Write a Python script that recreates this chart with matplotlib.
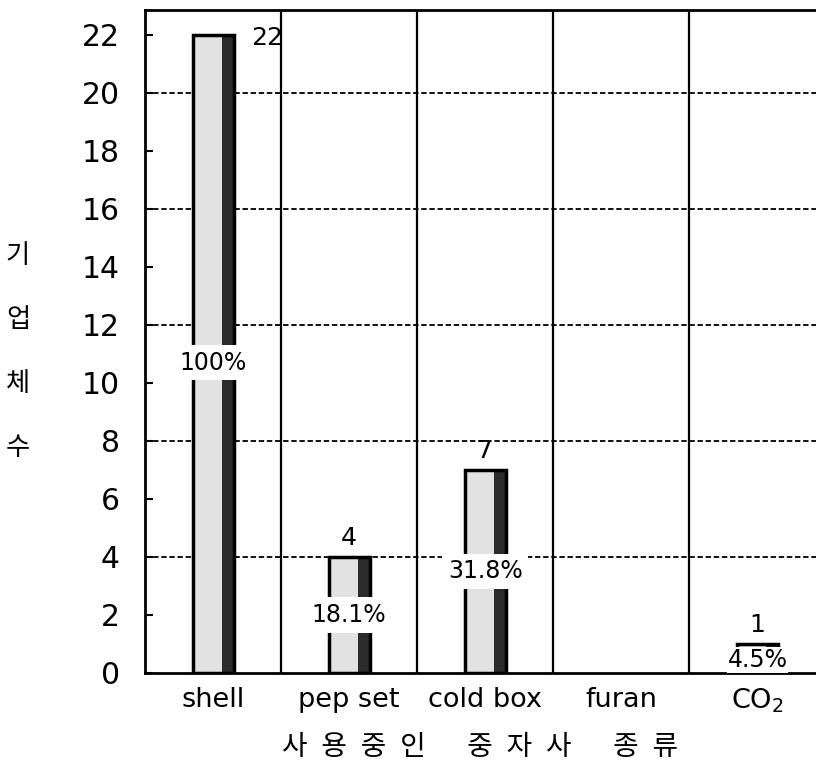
import matplotlib
matplotlib.use("Agg")
import matplotlib.pyplot as plt
import numpy as np

plt.rcParams['font.family'] = ['DejaVu Sans', 'Noto Sans CJK KR']

categories = ["shell", "pep set", "cold box", "furan", "CO$_2$"]
counts = [22, 4, 7, 0, 1]
percents = ["100%", "18.1%", "31.8%", None, "4.5%"]
yticks = list(range(0, 23, 2))
xlabel = "사\u2002용\u2002중\u2002인\u2002\u2002\u2002중\u2002자\u2002사\u2002\u2002\u2002종\u2002류"
ylabel = "기\n업\n체\n수"

fig = plt.figure(figsize=(8.16, 7.67), dpi=100)
ax = fig.add_axes([145/816, 1 - 673/767, 1 - 145/816, (673 - 10)/767])

x = np.arange(len(categories))
light_w = 0.213
dark_w = 0.088
total_w = light_w + dark_w
left = x - total_w / 2

ax.bar(left, counts, width=light_w, align='edge', color='#e2e2e2',
       edgecolor='none', zorder=3)
ax.bar(left + light_w, counts, width=dark_w, align='edge', color='#2b2b2b',
       edgecolor='none', zorder=3)
for i, v in enumerate(counts):
    if v > 0:
        ax.bar(left[i], v, width=total_w, align='edge', color='none',
               edgecolor='black', linewidth=2.5, zorder=4)

# grid lines
for b in [0.5, 1.5, 2.5, 3.5]:
    ax.axvline(b, color='black', lw=1.6, zorder=2)
for g in [4, 8, 12, 16, 20]:
    ax.axhline(g, color='black', lw=1.3, ls=(0, (3, 1.5)), zorder=1)

# value labels
for i, v in enumerate(counts):
    if v == 0:
        continue
    if i == 0:
        ax.text(x[i] + 0.4, v - 0.1, str(v), ha='center', va='center', fontsize=18, zorder=6)
    else:
        ax.text(x[i], v + 0.25, str(v), ha='center', va='bottom', fontsize=18, zorder=6)

# percent labels
for i, p in enumerate(percents):
    if p is None:
        continue
    if i == 0:
        yv, pad = 10.7, 4
    elif counts[i] > 1:
        yv, pad = counts[i] / 2, 4
    else:
        yv, pad = 0.45, 0.5
    ax.text(x[i], yv, p, ha='center', va='center', fontsize=17, zorder=7,
            bbox=dict(facecolor='white', edgecolor='none', pad=pad))

ax.set_xlim(-0.5, 4.43)
ax.set_ylim(0, 22.85)
ax.set_yticks(yticks)
ax.set_yticklabels([str(t) for t in yticks], fontsize=21.5)
ax.set_xticks(x)
ax.set_xticklabels(categories, fontsize=19.5)
ax.tick_params(axis='y', direction='in', length=6, width=1.5, pad=18)
ax.tick_params(axis='x', length=0, pad=10)

for s in ax.spines.values():
    s.set_linewidth(2)
    s.set_color('black')
ax.spines['right'].set_visible(False)

ax.set_xlabel(xlabel, fontsize=20, labelpad=13)
fig.text(18/816, 1 - 352/767, ylabel, fontsize=19, ha='center', va='center',
         linespacing=2.9)

fig.savefig("out.png", dpi=100)
